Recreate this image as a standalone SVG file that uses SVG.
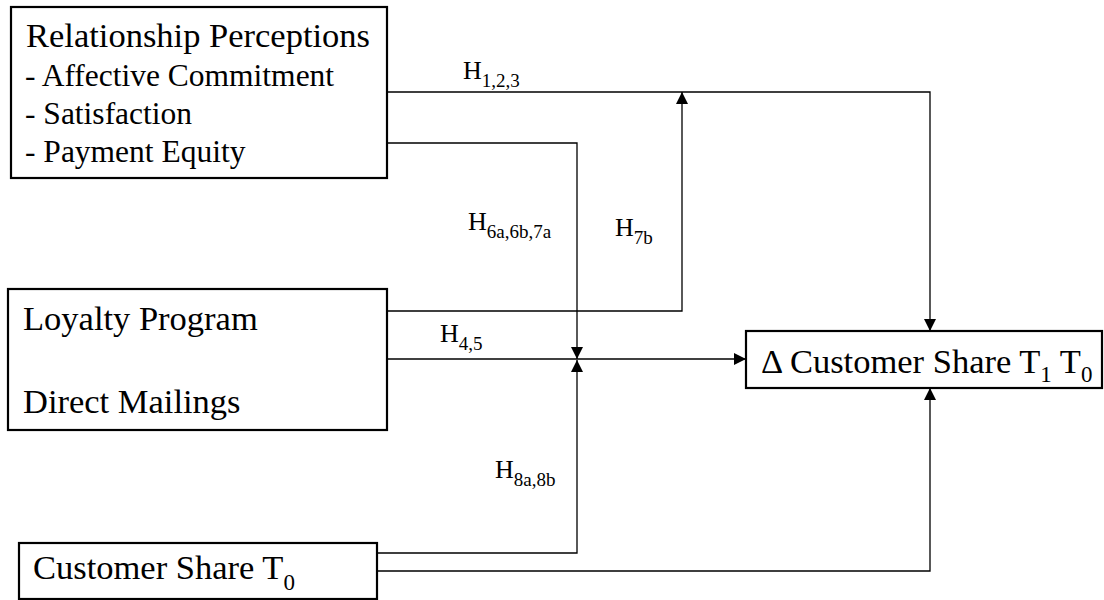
<svg xmlns="http://www.w3.org/2000/svg" width="1104" height="600" viewBox="0 0 1104 600">
<style>
.box{fill:#fff;stroke:#000;stroke-width:2.2}
.t{font-family:"Liberation Serif","Times New Roman",serif;fill:#000}
.big{font-size:34.5px}
.mid{font-size:31.5px}
.lab{font-size:26px}
.sub{font-size:19px}
.c{fill:none;stroke:#000;stroke-width:1.3}
</style>
<defs>
<marker id="ah" viewBox="0 0 12 12" refX="12" refY="6" markerWidth="12" markerHeight="12" markerUnits="userSpaceOnUse" orient="auto">
<path d="M0,0 L12,6 L0,12 Z" fill="#000"/>
</marker>
</defs>
<rect width="1104" height="600" fill="#fff"/>
<g id="connectors">
<polyline class="c" points="387,92 930,92 930,331" marker-end="url(#ah)"/>
<polyline class="c" points="387,143 577,143 577,359" marker-end="url(#ah)"/>
<polyline class="c" points="387,311 682,311 682,92" marker-end="url(#ah)"/>
<polyline class="c" points="387,359 746,359" marker-end="url(#ah)"/>
<polyline class="c" points="377,553 577,553 577,360" marker-end="url(#ah)"/>
<polyline class="c" points="377,571 930,571 930,388" marker-end="url(#ah)"/>
<text class="t lab" x="463" y="79">H<tspan class="sub" dy="8">1,2,3</tspan></text>
<text class="t lab" x="468" y="230">H<tspan class="sub" dy="8">6a,6b,7a</tspan></text>
<text class="t lab" x="615" y="236">H<tspan class="sub" dy="8">7b</tspan></text>
<text class="t lab" x="440" y="342">H<tspan class="sub" dy="8">4,5</tspan></text>
<text class="t lab" x="495" y="478">H<tspan class="sub" dy="8">8a,8b</tspan></text>
</g>
<g id="relationship">
<rect class="box" x="11" y="7" width="376" height="171"/>
<text class="t big" x="26" y="47">Relationship Perceptions</text>
<text class="t mid" x="25" y="86">- Affective Commitment</text>
<text class="t mid" x="25" y="124">- Satisfaction</text>
<text class="t mid" x="25" y="162">- Payment Equity</text>
</g>
<g id="loyalty">
<rect class="box" x="8" y="289" width="379" height="141"/>
<text class="t big" x="23" y="330">Loyalty Program</text>
<text class="t big" x="23" y="413">Direct Mailings</text>
</g>
<g id="share0">
<rect class="box" x="19" y="543" width="358" height="56"/>
<text class="t big" x="33" y="579">Customer Share T<tspan font-size="23px" dy="11">0</tspan></text>
</g>
<g id="delta">
<rect class="box" x="746" y="331" width="356" height="57"/>
<text class="t big" x="761" y="373">Δ Customer Share T<tspan font-size="23px" dy="9">1</tspan><tspan dy="-9"> T</tspan><tspan font-size="23px" dy="9">0</tspan></text>
</g>
</svg>
